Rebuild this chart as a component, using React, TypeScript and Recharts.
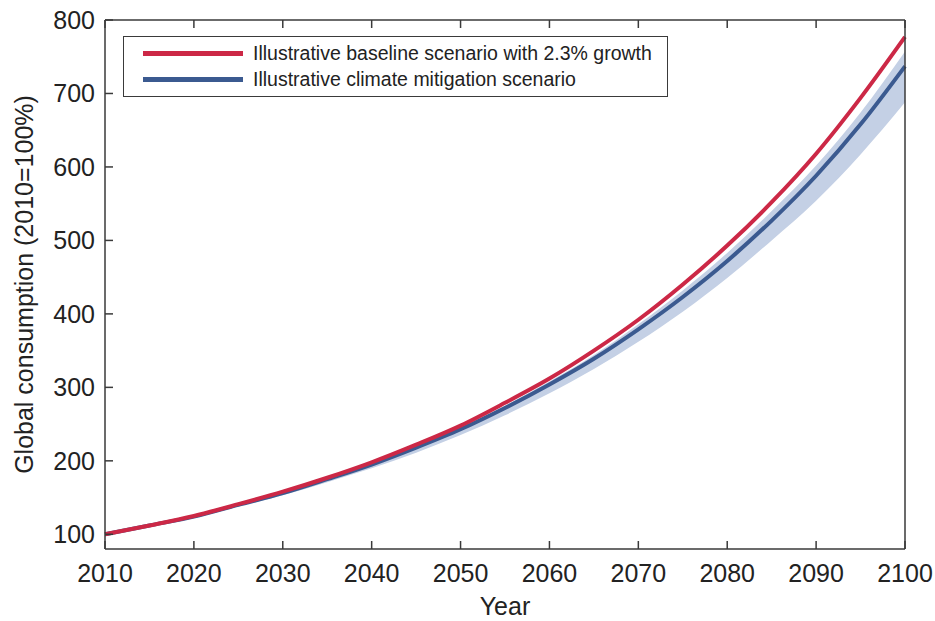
import React from "react"
import {
  ComposedChart,
  Area,
  Line,
  XAxis,
  YAxis,
  Legend,
} from "recharts"

// values, every 5 years
const years = [2010, 2015, 2020, 2025, 2030, 2035, 2040, 2045, 2050, 2055, 2060, 2065, 2070, 2075, 2080, 2085, 2090, 2095, 2100]
const baseline = [100, 112, 125, 141, 158, 177, 198, 222, 248, 279, 312, 350, 392, 440, 493, 552, 618, 694, 777]
const mitigation = [100, 112, 124, 140, 156, 175, 195, 218, 243, 272, 304, 339, 379, 423, 472, 527, 588, 658, 737]
const bandLow = [100, 111, 123, 138, 153, 171, 190, 211, 235, 262, 292, 325, 362, 403, 449, 500, 554, 617, 688]
const bandHigh = [100, 112, 125, 141, 157, 176, 196, 220, 246, 275, 308, 344, 386, 432, 483, 540, 602, 674, 757]

const yearTicks = [2010, 2020, 2030, 2040, 2050, 2060, 2070, 2080, 2090, 2100]
const valueTicks = [100, 200, 300, 400, 500, 600, 700, 800]

const data = years.map((year, i) => ({
  year,
  baseline: baseline[i],
  mitigation: mitigation[i],
  band: [bandLow[i], bandHigh[i]],
}))

const FONT = "'Liberation Sans', Arial, sans-serif"
const TEXT = "#222"
const AXIS = "#3a3a3a"
const RED = "#cc2846"
const BLUE = "#3b5a90"
const BAND = "#c4d0e5"

const tickStyle = { fontSize: 25, fill: TEXT, fontFamily: FONT }
const noLabel = () => <g />

const YLabel = (props: any) => {
  const { x, y, height } = props.viewBox
  const cx = x - 1
  const cy = y + height / 2
  return (
    <text
      x={cx}
      y={cy}
      transform={`rotate(-90, ${cx}, ${cy})`}
      textAnchor="middle"
      dominantBaseline="central"
      fontSize={25}
      fill={TEXT}
      fontFamily={FONT}
    >
      Global consumption (2010=100%)
    </text>
  )
}

const XLabel = (props: any) => {
  const { x, y, width } = props.viewBox
  return (
    <text x={x + width / 2} y={y + 66} textAnchor="middle" fontSize={25} fill={TEXT} fontFamily={FONT}>
      Year
    </text>
  )
}

const LegendBox = (props: any) => (
  <div
    style={{
      border: `1.5px solid ${AXIS}`,
      boxSizing: "border-box",
      width: 545,
      height: 61,
      padding: "3px 0 0 19px",
      background: "#fff",
      fontFamily: FONT,
      fontSize: 19.5,
      color: TEXT,
    }}
  >
    {props.payload
      .filter((p: any) => p.type !== "none")
      .map((p: any) => (
        <div key={p.value} style={{ display: "flex", alignItems: "center", height: 26 }}>
          <span style={{ display: "inline-block", width: 100, height: 5, background: p.color, marginRight: 10 }} />
          <span>{p.value}</span>
        </div>
      ))}
  </div>
)

export default function App() {
  return (
    <div style={{ position: "absolute", left: 0, top: 0, background: "#fff" }}>
      <ComposedChart width={935} height={621} data={data} margin={{ top: 19, right: 29, bottom: 0, left: 25 }}>
        <XAxis
          dataKey="year"
          type="number"
          domain={[2010, 2100]}
          ticks={yearTicks}
          interval={0}
          height={72}
          tickSize={-8}
          tickMargin={23}
          tick={tickStyle}
          axisLine={{ stroke: AXIS, strokeWidth: 1.5 }}
          tickLine={{ stroke: AXIS, strokeWidth: 1.5 }}
          label={<XLabel />}
        />
        <XAxis
          xAxisId="top"
          orientation="top"
          dataKey="year"
          type="number"
          domain={[2010, 2100]}
          ticks={yearTicks}
          interval={0}
          height={1}
          tickSize={-8}
          tick={noLabel}
          axisLine={{ stroke: AXIS, strokeWidth: 1.5 }}
          tickLine={{ stroke: AXIS, strokeWidth: 1.5 }}
        />
        <YAxis
          type="number"
          domain={[80, 800]}
          ticks={valueTicks}
          interval={0}
          width={80}
          tickSize={-8}
          tickMargin={18}
          tick={tickStyle}
          axisLine={{ stroke: AXIS, strokeWidth: 1.5 }}
          tickLine={{ stroke: AXIS, strokeWidth: 1.5 }}
          label={<YLabel />}
        />
        <YAxis
          yAxisId="right"
          orientation="right"
          type="number"
          domain={[80, 800]}
          ticks={valueTicks}
          interval={0}
          width={1}
          tickSize={-8}
          tick={noLabel}
          axisLine={{ stroke: AXIS, strokeWidth: 1.5 }}
          tickLine={{ stroke: AXIS, strokeWidth: 1.5 }}
        />
        <Legend
          layout="vertical"
          align="center"
          verticalAlign="middle"
          content={<LegendBox />}
          wrapperStyle={{ top: 36, left: 123, width: 545, height: 61 }}
        />
        <Area
          dataKey="band"
          type="monotone"
          stroke="none"
          fill={BAND}
          fillOpacity={1}
          legendType="none"
          isAnimationActive={false}
        />
        <Line
          dataKey="mitigation"
          name="Illustrative climate mitigation scenario"
          type="monotone"
          stroke={BLUE}
          strokeWidth={4}
          dot={false}
          isAnimationActive={false}
        />
        <Line
          dataKey="baseline"
          name="Illustrative baseline scenario with 2.3% growth"
          type="monotone"
          stroke={RED}
          strokeWidth={4}
          dot={false}
          isAnimationActive={false}
        />
      </ComposedChart>
    </div>
  )
}
